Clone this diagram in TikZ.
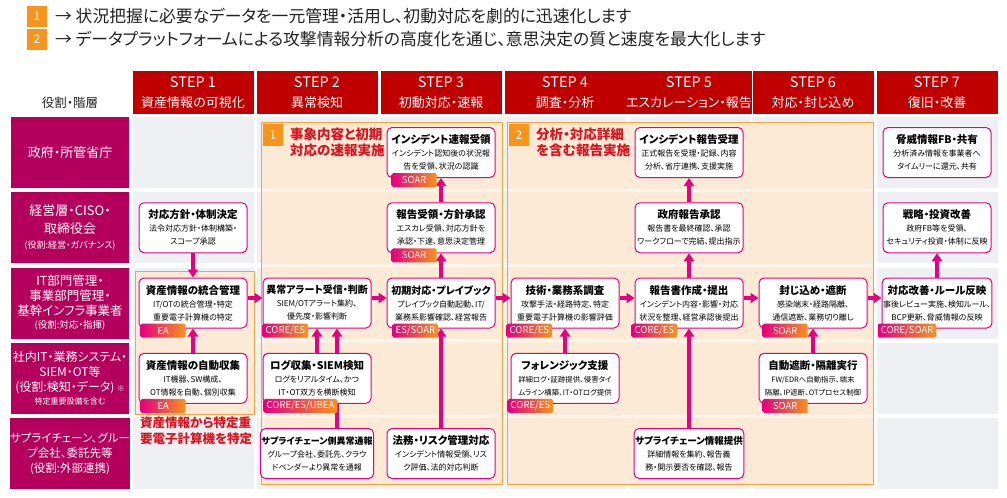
\documentclass[tikz,border=0pt]{standalone}
\usepackage{fontspec}
\setmainfont{Noto Sans CJK JP}[RawFeature=+palt]
\usetikzlibrary{arrows.meta,positioning}

\definecolor{stepred}{HTML}{C00000}
\definecolor{rolemag}{HTML}{B4005C}
\definecolor{boxpink}{HTML}{E4007F}
\definecolor{tagorange}{HTML}{F7941D}
\definecolor{areaedge}{HTML}{F5A33C}
\definecolor{areafill}{HTML}{FCE9D6}
\definecolor{areagap}{HTML}{FDF3E9}
\definecolor{cellgray}{HTML}{EEF0F4}
\definecolor{notered}{HTML}{D9141E}
\definecolor{inkgray}{HTML}{222222}

% task box text: bold title, two lines of description
\newcommand\tsk[4][10.5]{{\bfseries\fontsize{#1}{13}\selectfont #2}\\#3\\#4}

\begin{document}
\begin{tikzpicture}[x=1pt,y=-1pt,
    rowlab/.style={fill=rolemag,text=white,minimum width=118pt,minimum height=71pt,
      align=center,inner sep=0pt},
    stephead/.style={fill=stepred,text=white,minimum width=121pt,minimum height=43pt,
      align=center,inner sep=0pt,font=\fontsize{13}{20}\selectfont},
    taskbox/.style={draw=boxpink,line width=1pt,rounded corners=5pt,fill=white,
      minimum width=108pt,minimum height=50pt,align=center,inner sep=1pt,
      font=\fontsize{8}{13}\selectfont},
    tagbox/.style={left color=boxpink,right color=tagorange,text=white,
      minimum width=45pt,minimum height=14pt,inner xsep=3pt,inner ysep=0pt,
      rounded corners=1.5pt,font=\fontsize{9.5}{10}\selectfont},
    flow/.style={draw=boxpink,line width=3.2pt,-{Triangle[length=8pt,width=10pt]}},
    area/.style={fill=areafill,draw=areaedge,line width=.9pt},
    numsq/.style={fill=tagorange,text=white,minimum width=20pt,minimum height=21pt,
      inner sep=0pt,font=\fontsize{12}{12}\selectfont},
    note/.style={text=notered,font=\bfseries\fontsize{13.5}{16}\selectfont,align=left,
      anchor=west,inner sep=0pt}]
  \useasboundingbox (0,0) rectangle (1007,498);
  \fill[white] (0,0) rectangle (1007,498);

  % Grid and highlighted areas.
  \foreach \i in {0,...,6}
    \foreach \j in {0,...,4}
      \fill[cellgray] ({132.5+124*\i},{117+75.25*\j}) rectangle ++(121,71);
  \draw[area] (135,271) rectangle (254,414);
  \draw[area] (261,122) rectangle (502,484);
  \draw[area] (507,122) rectangle (873,484);
  \foreach \y in {188.5,263.75,339,414.25}
    \fill[areagap] (262,\y) rectangle (501,\y+3.5) (508,\y) rectangle (872,\y+3.5);

  % Goals at the top.
  \node[numsq] (n1) at (37,16.5) {1};
  \node[numsq] (n2) at (37,39) {2};
  \node[anchor=west,inner sep=0pt,text=inkgray,font=\fontsize{16.8}{17}\selectfont] (g1)
    at (55,16.5) {→ 状況把握に必要なデータを一元管理・活用し、初動対応を劇的に迅速化します};
  \node[anchor=west,inner sep=0pt,text=inkgray,font=\fontsize{16.8}{17}\selectfont] (g2)
    at (55,39) {→ データプラットフォームによる攻撃情報分析の高度化を通じ、意思決定の質と速度を最大化します};

  % Column heads.
  \node[font=\fontsize{12.5}{12}\selectfont,text=inkgray] (role) at (70,103) {役割・階層};
  \foreach \i/\name in {1/資産情報の可視化,2/異常検知,3/初動対応・速報,4/調査・分析,
      5/エスカレーション・報告,6/対応・封じ込め,7/復旧・改善}
    \node[stephead] (s\i) at ({193+124*(\i-1)},92.5) {{\fontsize{14.5}{20}\selectfont STEP \i}\\\name};

  % Row heads.
  \node[rowlab,font=\fontsize{13}{15}\selectfont] (r1) at (70,152.5) {政府・所管省庁};
  \node[rowlab,font=\fontsize{13}{18}\selectfont] (r2) at (70,227.75)
    {経営層・CISO・\\取締役会\\[-3pt]{\fontsize{9}{10}\selectfont (役割:経営・ガバナンス)}};
  \node[rowlab,font=\fontsize{12.5}{15}\selectfont] (r3) at (70,303)
    {IT部門管理・\\事業部門管理・\\基幹インフラ事業者\\[-2pt]{\fontsize{9.5}{10}\selectfont (役割:対応・指揮)}};
  \node[rowlab,font=\fontsize{12}{15}\selectfont] (r4) at (70,378.25)
    {社内IT・業務システム・\\SIEM・OT等\\(役割:検知・データ) {\fontsize{7.5}{8}\selectfont ※}\\[-2pt]{\fontsize{8}{9}\selectfont 特定重要設備を含む}};
  \node[rowlab,font=\fontsize{11.5}{15}\selectfont] (r5) at (70,453.5)
    {サプライチェーン、グルー\\プ会社、委託先等\\(役割:外部連携)};

  % Area labels.
  \node[numsq,minimum height=22pt] (a1) at (273,135) {1};
  \node[note] (a1t) at (290,142.5) {事象内容と初期\\対応の速報実施};
  \node[numsq,minimum height=22pt] (a2) at (519,135) {2};
  \node[note] (a2t) at (536,142.5) {分析・対応詳細\\を含む報告実施};
  \node[note,font=\bfseries\fontsize{12.5}{16}\selectfont] (a0t) at (140,431)
    {資産情報から特定重\\要電子計算機を特定};

  % STEP 1
  \node[taskbox] (b12) at (193,227.75) {\tsk{対応方針・体制決定}{法令対応方針・体制構築・}{スコープ承認}};
  \node[taskbox] (b13) at (193,303) {\tsk{資産情報の統合管理}{IT/OTの統合管理・特定}{重要電子計算機の特定}};
  \node[taskbox] (b14) at (193,378.25) {\tsk{資産情報の自動収集}{IT機器、SW構成、}{OT情報を自動、個別収集}};

  % STEP 2 (the supply chain report runs behind the log box)
  \node[taskbox] (b23) at (317,303) {\tsk[10]{異常アラート受信・判断}{SIEM/OTアラート集約、}{優先度・影響判断}};
  \node[taskbox] (b25) at (317,453.5) {\tsk[9]{サプライチェーン側異常通報}{グループ会社、委託先、クラウ}{ドベンダーより異常を通報}};
  \draw[flow] ([xshift=20pt]b25.north) -- ([xshift=20pt]b23.south);
  \node[taskbox] (b24) at (317,378.25) {\tsk{ログ収集・SIEM検知}{ログをリアルタイム、かつ}{IT・OT双方を横断検知}};

  % STEP 3
  \node[taskbox] (b31) at (441,152.5) {\tsk{インシデント速報受領}{インシデント認知後の状況報}{告を受領、状況の認識}};
  \node[taskbox] (b32) at (441,227.75) {\tsk{報告受領・方針承認}{エスカレ受領、対応方針を}{承認・下達、意思決定管理}};
  \node[taskbox] (b33) at (441,303) {\tsk[10]{初期対応・プレイブック}{プレイブック自動起動、IT/}{業務系影響確認、経営報告}};
  \node[taskbox] (b35) at (441,453.5) {\tsk{法務・リスク管理対応}{インシデント情報受領、リス}{ク評価、法的対応判断}};

  % STEP 4
  \node[taskbox] (b43) at (565,303) {\tsk{技術・業務系調査}{攻撃手法・経路特定、特定}{重要電子計算機の影響評価}};
  \node[taskbox,font=\fontsize{7.4}{13}\selectfont] (b44) at (565,378.25)
    {\tsk{フォレンジック支援}{詳細ログ・証跡提供、侵害タイ}{ムライン構築、IT・OTログ提供}};

  % STEP 5
  \node[taskbox] (b51) at (689,152.5) {\tsk{インシデント報告受理}{正式報告を受理・記録、内容}{分析、省庁連携、支援実施}};
  \node[taskbox] (b52) at (689,227.75) {\tsk{政府報告承認}{報告書を最終確認、承認}{ワークフローで完結、提出指示}};
  \node[taskbox] (b53) at (689,303) {\tsk{報告書作成・提出}{インシデント内容・影響・対応}{状況を整理、経営承認後提出}};
  \node[taskbox] (b55) at (689,453.5) {\tsk[9.5]{サプライチェーン情報提供}{詳細情報を集約、報告義}{務・開示要否を確認、報告}};

  % STEP 6
  \node[taskbox] (b63) at (813,303) {\tsk{封じ込め・遮断}{感染端末・経路隔離、}{通信遮断、業務切り離し}};
  \node[taskbox,font=\fontsize{7.4}{13}\selectfont] (b64) at (813,378.25)
    {\tsk{自動遮断・隔離実行}{FW/EDRへ自動指示、端末}{隔離、IP遮断、OTプロセス制御}};

  % STEP 7
  \node[taskbox] (b71) at (937,152.5) {\tsk{脅威情報FB・共有}{分析済み情報を事業者へ}{タイムリーに還元、共有}};
  \node[taskbox] (b72) at (937,227.75) {\tsk{戦略・投資改善}{政府FB等を受領、}{セキュリティ投資・体制に反映}};
  \node[taskbox] (b73) at (937,303)
    {\tsk{対応改善・ルール反映}{事後レビュー実施、検知ルール、}{BCP更新、脅威情報の反映}};

  % Flows.
  \draw[flow] (b12) -- (b13);
  \draw[flow] (b14) -- (b13);
  \draw[flow] (b24) -- (b23);
  \draw[flow] (b32) -- (b31);
  \draw[flow] (b33) -- (b32);
  \draw[flow] (b35) -- (b33);
  \draw[flow] (b44) -- (b43);
  \draw[flow] (b52) -- (b51);
  \draw[flow] (b53) -- (b52);
  \draw[flow] (b55) -- (b53);
  \draw[flow] (b64) -- (b63);
  \draw[flow] (b73) -- (b72);
  \foreach \a/\b in {13/23,23/33,33/43,43/53,53/63,63/73}
    \draw[flow] ([yshift=5pt]b\a.east) -- ([yshift=5pt]b\b.west);

  % Tags, over the flows.
  \node[tagbox,below right=-5pt and 2pt of b13.south west] (e13) {EA};
  \node[tagbox,below right=-5pt and 2pt of b14.south west] (e14) {EA};
  \node[tagbox,below right=-5pt and 0pt of b23.south west] (e23) {CORE/ES};
  \node[tagbox,below right=-5pt and 1pt of b24.south west] (e24) {CORE/ES/UBEA};
  \node[tagbox,below right=-5pt and 5pt of b31.south west] (e31) {SOAR};
  \node[tagbox,below right=-5pt and 5pt of b32.south west] (e32) {SOAR};
  \node[tagbox,below right=-5pt and 6pt of b33.south west] (e33) {ES/SOAR};
  \node[tagbox,below right=-5pt and -4pt of b43.south west] (e43) {CORE/ES};
  \node[tagbox,below right=-5pt and -3pt of b44.south west] (e44) {CORE/ES};
  \node[tagbox,below right=-5pt and -3pt of b53.south west] (e53) {CORE/ES};
  \node[tagbox,below right=-5pt and 4pt of b63.south west] (e63) {SOAR};
  \node[tagbox,below right=-5pt and 4pt of b64.south west] (e64) {SOAR};
  \node[tagbox,below right=-5pt and -4pt of b73.south west] (e73) {CORE/SOAR};
\end{tikzpicture}
\end{document}
